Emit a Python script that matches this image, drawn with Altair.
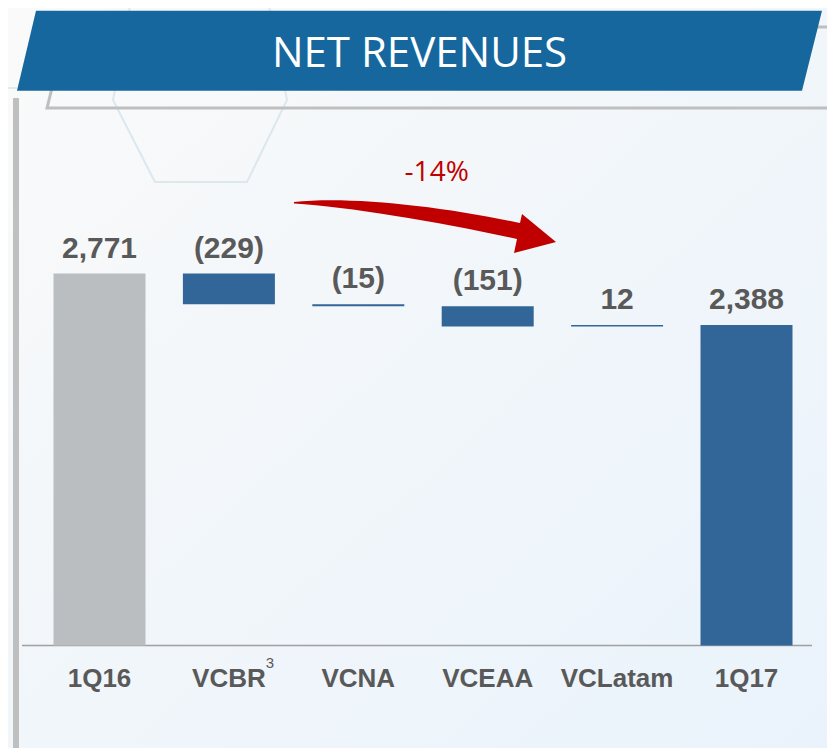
import altair as alt
import pandas as pd

# ---------------- data ----------------
categories = ["1Q16", "VCBR", "VCNA", "VCEAA", "VCLatam", "1Q17"]
values = [2771, -229, -15, -151, 12, 2388]
kinds = ["total", "delta", "delta", "delta", "delta", "total"]
value_labels = ["2,771", "(229)", "(15)", "(151)", "12", "2,388"]
groups = ["base", "change", "change", "change", "change", "final"]
title_text = "NET REVENUES"
change_text = "-14%"
footnote_cat = "VCBR"
footnote_mark = "3"

# waterfall start / end
starts, ends = [], []
running = 0
for k, v in zip(kinds, values):
    if k == "total":
        starts.append(0)
        ends.append(v)
        running = v
    else:
        starts.append(running)
        running += v
        ends.append(running)

df = pd.DataFrame({
    "cat": categories,
    "start": starts,
    "end": ends,
    "top": [max(a, b) for a, b in zip(starts, ends)],
    "label": value_labels,
    "group": groups,
})

W, H = 819, 740
OX, OY = 8, 8  # page offset of the chart

xscale = alt.Scale(domain=categories, range=[26.8, 803.2], paddingInner=0.289, paddingOuter=0.1445)
yscale = alt.Scale(domain=[0, 4749], range=[637.5, 0], nice=False, zero=True)
cscale = alt.Scale(domain=["base", "change", "final"], range=["#BBBEC1", "#326699", "#326699"])

one = pd.DataFrame({"a": [0]})


def sym_path(cmds, cx, cy, s):
    out = []
    for c, pts in cmds:
        seg = c
        for (px, py) in pts:
            seg += " %.4f %.4f" % ((px - cx) / s, (py - cy) / s)
        out.append(seg)
    return " ".join(out)


def shape_layer(cmds, cx, cy, s, filled=True, color="#000", stroke_width=0):
    path = sym_path(cmds, cx, cy, s)
    if filled:
        m = alt.Chart(one).mark_point(shape=path, size=(2 * s) ** 2, filled=True,
                                      fill=color, strokeWidth=0, opacity=1)
    else:
        m = alt.Chart(one).mark_point(shape=path, size=(2 * s) ** 2, filled=False,
                                      fill=None, stroke=color, strokeWidth=stroke_width, opacity=1)
    return m.encode(x=alt.value(cx - OX), y=alt.value(cy - OY))


# background gradient
bg = alt.Chart(one).mark_rect(
    fill=alt.LinearGradient(
        gradient="linear", x1=0, y1=0, x2=1, y2=1,
        stops=[alt.GradientStop(color="#FAFAFA", offset=0),
               alt.GradientStop(color="#F1F6FA", offset=0.5),
               alt.GradientStop(color="#EAF3FC", offset=1)]
    )
).encode(x=alt.value(0), x2=alt.value(W), y=alt.value(0), y2=alt.value(H))

# faint hexagon
hexagon = shape_layer(
    [("M", [(131, 0)]), ("L", [(113, 100)]), ("L", [(155, 182)]), ("L", [(247, 182)]),
     ("L", [(287, 100)]), ("L", [(268, 0)])],
    200, 91, 100, filled=False, color="#DCE8EE", stroke_width=2)

# gray outline behind the banner
outline = shape_layer(
    [("M", [(52, 88)]), ("L", [(47, 108)]), ("L", [(832, 108)]), ("L", [(841, 27)]), ("L", [(812, 27)])],
    443.5, 67.5, 400, filled=False, color="#BFBFBF", stroke_width=3)

# blue banner
banner = shape_layer(
    [("M", [(36, 10.7)]), ("L", [(822, 10.7)]), ("L", [(802, 90.7)]), ("L", [(17, 90.7)]), ("Z", [])],
    419.5, 50.7, 403, filled=True, color="#15679E")

title = alt.Chart(pd.DataFrame({"t": [title_text]})).mark_text(
    font="Open Sans", fontSize=42, color="white", align="center", baseline="alphabetic"
).encode(text="t:N", x=alt.value(419.5 - OX), y=alt.value(66.7 - OY))

faint_line = alt.Chart(one).mark_rule(color="#E2EAF0", strokeWidth=2).encode(
    x=alt.value(0), x2=alt.value(9), y=alt.value(88 - OY))

left_line = alt.Chart(one).mark_rule(color="#BFBFBF", strokeWidth=6).encode(
    x=alt.value(16 - OX), y=alt.value(98 - OY), y2=alt.value(H))

baseline = alt.Chart(one).mark_rule(color="#A0A0A0", strokeWidth=1.5).encode(
    x=alt.value(22 - OX), x2=alt.value(812 - OX), y=alt.Y(datum=0, scale=yscale, axis=None))

bars = alt.Chart(df).mark_bar(strokeWidth=0).encode(
    x=alt.X("cat:N", scale=xscale, axis=None),
    y=alt.Y("start:Q", scale=yscale, axis=None),
    y2="end:Q",
    color=alt.Color("group:N", scale=cscale, legend=None),
)

labels = alt.Chart(df).mark_text(
    font="Liberation Sans", fontSize=30, fontWeight="bold", color="#595959",
    align="center", baseline="alphabetic", dy=-16
).encode(
    x=alt.X("cat:N", scale=xscale, axis=None),
    y=alt.Y("top:Q", scale=yscale, axis=None),
    text="label:N",
)

cat_labels = alt.Chart(df).mark_text(
    font="Liberation Sans", fontSize=26, fontWeight="bold", color="#595959",
    align="center", baseline="alphabetic", dy=41.5
).encode(
    x=alt.X("cat:N", scale=xscale, axis=None),
    y=alt.Y(datum=0, scale=yscale, axis=None),
    text="cat:N",
)

sup = alt.Chart(pd.DataFrame({"cat": [footnote_cat], "s": [footnote_mark]})).mark_text(
    font="Liberation Sans", fontSize=15, color="#595959",
    align="center", baseline="alphabetic", dx=41, dy=22.5
).encode(
    x=alt.X("cat:N", scale=xscale, axis=None),
    y=alt.Y(datum=0, scale=yscale, axis=None),
    text="s:N",
)

arrow = shape_layer(
    [("M", [(294, 202)]),
     ("C", [(350, 196), (440, 206), (520, 223)]),
     ("L", [(522, 214)]), ("L", [(556, 242)]), ("L", [(514, 253)]), ("L", [(517, 239)]),
     ("C", [(440, 222), (350, 207), (294, 203.5)]),
     ("Z", [])],
    425, 226, 135, filled=True, color="#C00000")

change = alt.Chart(pd.DataFrame({"t": [change_text]})).mark_text(
    font="Open Sans", fontSize=28, color="#C00000", align="center", baseline="alphabetic"
).encode(text="t:N", x=alt.value(436.7 - OX), y=alt.value(180.7 - OY))

chart = alt.layer(
    bg, hexagon, faint_line, outline, banner, title, left_line, baseline,
    bars, labels, cat_labels, sup, arrow, change
).properties(
    width=W, height=H, padding=0, autosize=alt.AutoSizeParams(type="none")
).configure_view(stroke=None).configure(background="#FAFAFA")

chart.save("out.html", embed_options={"renderer": "svg", "actions": False})
